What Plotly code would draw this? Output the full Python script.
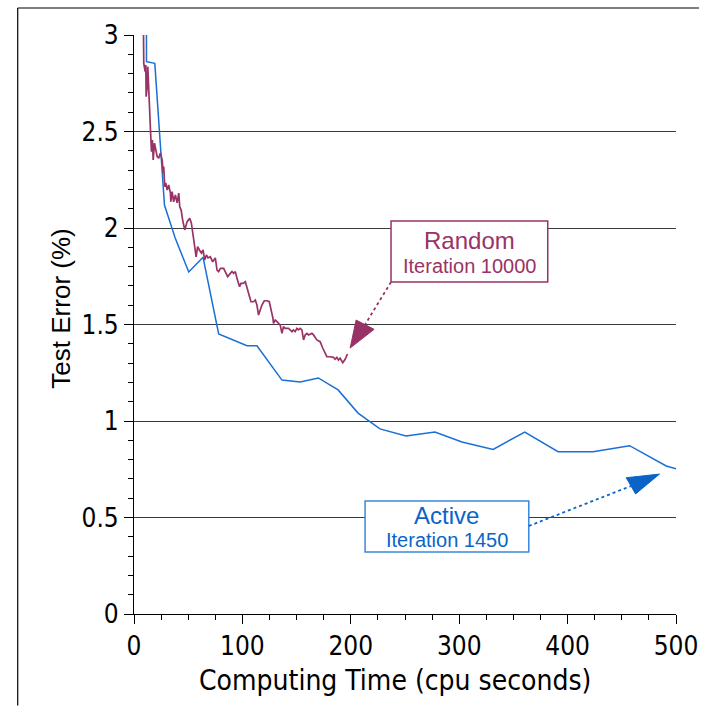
import plotly.graph_objects as go

# ---- data ----
random_x = [8.7, 9.0, 10.3, 10.9, 11.2, 12.2, 12.7, 13.4, 14.3, 15.2, 16.1, 17.0, 17.7, 18.9, 20.1,
            21.4, 22.8, 24.4, 26.0, 26.9, 27.4, 28.4, 29.3, 30.6, 32.0, 33.6, 34.0, 35.2, 36.6,
            38.2, 39.8, 41.3, 42.2, 43.5, 44.9, 46.8, 49.0, 51.4, 52.9, 54.5, 56.0, 57.3, 58.7,
            60.3, 62.2, 63.7, 65.2, 66.8, 68.3, 70.4, 72.6, 75.0, 76.6, 78.1, 79.7, 82.7, 84.3,
            86.4, 88.9, 90.4, 91.9, 93.5, 95.0, 97.4, 98.7, 100.6, 102.7, 104.2, 105.7, 107.9,
            110.3, 111.9, 113.4, 114.9, 116.5, 118.0, 120.2, 122.7, 124.8, 127.3, 128.2, 128.7,
            130.3, 131.9, 133.3, 134.9, 136.5, 137.9, 139.5, 142.5, 144.1, 145.7, 147.1, 148.7,
            150.3, 151.7, 153.3, 154.9, 156.4, 157.9, 159.5, 161.0, 164.1, 165.6, 168.7, 171.7,
            174.2, 176.3, 177.9, 180.9, 184.0, 185.5, 187.1, 188.6, 190.1, 192.6, 194.8, 196.9]
random_y = [3.05, 2.853, 2.810, 2.845, 2.680, 2.732, 2.836, 2.680, 2.628, 2.508, 2.395, 2.456, 2.352,
            2.440, 2.404, 2.369, 2.363, 2.389, 2.352, 2.285, 2.318, 2.214, 2.233, 2.197, 2.223,
            2.181, 2.136, 2.188, 2.136, 2.171, 2.130, 2.181, 2.110, 2.093, 2.041, 1.990, 2.033,
            2.050, 2.026, 1.974, 1.903, 1.851, 1.903, 1.886, 1.870, 1.886, 1.834, 1.860, 1.845,
            1.851, 1.825, 1.845, 1.782, 1.774, 1.791, 1.791, 1.774, 1.748, 1.765, 1.774, 1.765,
            1.774, 1.739, 1.696, 1.713, 1.713, 1.722, 1.696, 1.662, 1.618, 1.618, 1.627, 1.601,
            1.549, 1.575, 1.601, 1.623, 1.623, 1.618, 1.558, 1.532, 1.506, 1.523, 1.515, 1.506,
            1.497, 1.454, 1.489, 1.480, 1.480, 1.472, 1.463, 1.472, 1.463, 1.480, 1.472, 1.480,
            1.472, 1.420, 1.446, 1.454, 1.446, 1.454, 1.446, 1.420, 1.411, 1.377, 1.351, 1.333,
            1.333, 1.330, 1.320, 1.330, 1.316, 1.325, 1.302, 1.320, 1.347]

active_x = [11.5, 11.5, 19.2, 28.1, 38.0, 50.5, 63.7, 78.1, 104.2, 113.4, 136.5, 153.3, 170.0,
            188.3, 206.7, 226.9, 250.9, 277.6, 302.5, 331.3, 360.5, 391.2, 423.4, 457.2, 491.0, 498.6, 500.0]
active_y = [3.1, 2.862, 2.853, 2.119, 1.948, 1.772, 1.848, 1.451, 1.390, 1.390, 1.212, 1.202, 1.223,
            1.161, 1.041, 0.959, 0.922, 0.943, 0.891, 0.853, 0.943, 0.841, 0.841, 0.872, 0.767, 0.756, 0.753]

x_ticks = [0, 100, 200, 300, 400, 500]
y_ticks = [0, 0.5, 1, 1.5, 2, 2.5, 3]
y_tick_text = ["0", "0.5", "1", "1.5", "2", "2.5", "3"]

RANDOM_C = "#993366"
ACTIVE_C = "#1a6fd4"
ACTIVE_DARK = "#0a64c8"

fig = go.Figure()
fig.add_trace(go.Scatter(x=active_x, y=active_y, mode="lines",
                         line=dict(color=ACTIVE_C, width=1.5), showlegend=False))
fig.add_trace(go.Scatter(x=random_x, y=random_y, mode="lines",
                         line=dict(color=RANDOM_C, width=1.7), showlegend=False))

tick_font = dict(family="DejaVu Sans Condensed, DejaVu Sans", size=26, color="black")

fig.update_layout(
    width=701, height=707, autosize=False,
    margin=dict(l=133.5, r=24.5, t=35, b=93),
    paper_bgcolor="white", plot_bgcolor="white",
    xaxis=dict(range=[0, 500], tickvals=x_ticks, ticks="outside", ticklen=9, tickwidth=1,
               tickcolor="black", showline=True, linecolor="black", linewidth=1.2,
               showgrid=False, zeroline=False, tickfont=tick_font, automargin=False,
               minor=dict(dtick=25, ticks="outside", ticklen=5, tickcolor="black", showgrid=False)),
    yaxis=dict(range=[0, 3], tickvals=y_ticks, ticktext=y_tick_text, ticks="outside", ticklen=9,
               tickwidth=1, tickcolor="black", showline=True, linecolor="black", linewidth=1.2,
               showgrid=True, gridcolor="#3a3a3a", gridwidth=1.2, zeroline=False, tickfont=tick_font,
               automargin=False,
               minor=dict(dtick=0.1, ticks="outside", ticklen=5, tickcolor="black", showgrid=False)),
)

def px_x(p):
    return (p - 133.5) / 543.0

def px_y(p):
    return (614.0 - p) / 579.0

shapes = []
# outer frame lines (top and left)
shapes.append(dict(type="line", xref="paper", yref="paper", x0=px_x(17), x1=px_x(699.5),
                   y0=px_y(8), y1=px_y(8), line=dict(color="black", width=1.2)))
shapes.append(dict(type="line", xref="paper", yref="paper", x0=px_x(17), x1=px_x(17),
                   y0=px_y(8), y1=px_y(705.5), line=dict(color="black", width=1.2)))
# annotation boxes
shapes.append(dict(type="rect", xref="paper", yref="paper", x0=px_x(391), x1=px_x(548),
                   y0=px_y(282), y1=px_y(221), line=dict(color=RANDOM_C, width=1.5),
                   fillcolor="white"))
shapes.append(dict(type="rect", xref="paper", yref="paper", x0=px_x(365), x1=px_x(529),
                   y0=px_y(552), y1=px_y(501), line=dict(color="#3a88dc", width=1.5),
                   fillcolor="white"))
# dotted arrow lines
shapes.append(dict(type="line", xref="x", yref="y", x0=237.1, y0=1.720, x1=213.1, y1=1.499,
                   line=dict(color=RANDOM_C, width=1.8, dash="dot")))
shapes.append(dict(type="line", xref="x", yref="y", x0=364.2, y0=0.456, x1=458.4, y1=0.663,
                   line=dict(color=ACTIVE_DARK, width=1.8, dash="dot")))
# arrow heads
shapes.append(dict(type="path", xref="x", yref="y",
                   path="M 199.4,1.378 L 204.9,1.523 L 221.5,1.475 Z",
                   fillcolor=RANDOM_C, line=dict(color=RANDOM_C, width=1)))
shapes.append(dict(type="path", xref="x", yref="y",
                   path="M 484.8,0.725 L 454.1,0.706 L 462.7,0.622 Z",
                   fillcolor=ACTIVE_DARK, line=dict(color=ACTIVE_DARK, width=1)))
fig.update_layout(shapes=shapes)

lab_font = "Liberation Sans, Arial, Helvetica"
annots = [
    dict(text="Random", x=px_x(469.5), y=px_y(240), font=dict(family=lab_font, size=24, color=RANDOM_C)),
    dict(text="Iteration 10000", x=px_x(470), y=px_y(266), font=dict(family=lab_font, size=20, color=RANDOM_C)),
    dict(text="Active", x=px_x(447), y=px_y(515), font=dict(family=lab_font, size=24, color=ACTIVE_DARK)),
    dict(text="Iteration 1450", x=px_x(447), y=px_y(540), font=dict(family=lab_font, size=20, color=ACTIVE_DARK)),
    dict(text="Computing Time (cpu seconds)", x=px_x(395), y=px_y(680),
         font=dict(family="DejaVu Sans Condensed, DejaVu Sans", size=28, color="black")),
    dict(text="Test Error (%)", x=px_x(60), y=px_y(309), textangle=-90,
         font=dict(family=lab_font, size=26, color="black")),
]
for a in annots:
    a.update(xref="paper", yref="paper", xanchor="center", yanchor="middle", showarrow=False)
fig.update_layout(annotations=annots)

fig.write_html("out.html", config={"displayModeBar": False})
